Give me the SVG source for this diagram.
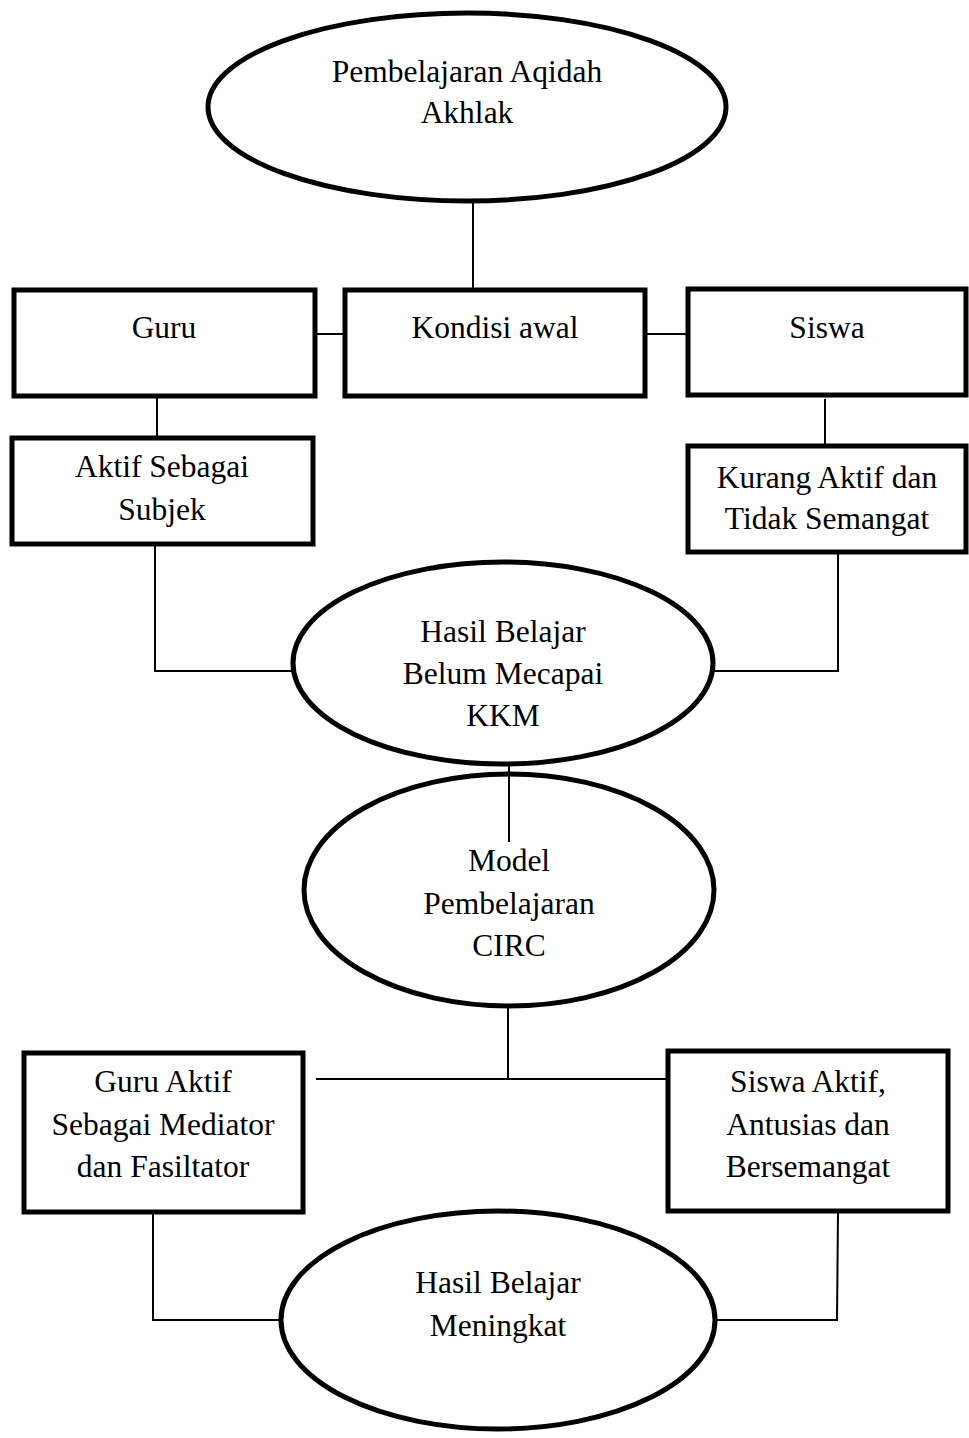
<svg xmlns="http://www.w3.org/2000/svg" width="969" height="1438" viewBox="0 0 969 1438">
<style>
.n{fill:#fff;stroke:#000;stroke-width:5}
.t{font-family:"Liberation Serif","Times New Roman",serif;font-size:31.5px;fill:#000;text-anchor:middle}
.c{fill:none;stroke:#000;stroke-width:2}
</style>
<rect width="969" height="1438" fill="#fff"/>
<g id="connectors">
<line class="c" x1="473" y1="203" x2="473" y2="289"/>
<line class="c" x1="316" y1="334" x2="343" y2="334"/>
<line class="c" x1="646" y1="334" x2="686" y2="334"/>
<line class="c" x1="157" y1="397" x2="157" y2="437"/>
<line class="c" x1="825" y1="399" x2="825" y2="445"/>
<polyline class="c" points="155,545 155,671 293,671"/>
<polyline class="c" points="838,553 838,671 713,671"/>
<line class="c" x1="509" y1="765" x2="509" y2="842"/>
<line class="c" x1="508" y1="1008" x2="508" y2="1079"/>
<line class="c" x1="316" y1="1079" x2="676" y2="1079"/>
<polyline class="c" points="153,1213 153,1320 282,1320"/>
<polyline class="c" points="838,1213 837,1320 715,1320"/>
</g>
<g id="n-pembelajaran">
<ellipse class="n" cx="467" cy="107" rx="259" ry="94"/>
<text class="t" x="467" y="82">Pembelajaran Aqidah</text>
<text class="t" x="467" y="123">Akhlak</text>
</g>
<g id="n-guru">
<rect class="n" x="14" y="290" width="301" height="106"/>
<text class="t" x="164" y="338">Guru</text>
</g>
<g id="n-kondisi">
<rect class="n" x="345" y="290" width="300" height="106"/>
<text class="t" x="495" y="338">Kondisi awal</text>
</g>
<g id="n-siswa">
<rect class="n" x="688" y="289" width="278" height="106"/>
<text class="t" x="827" y="338">Siswa</text>
</g>
<g id="n-aktif-subjek">
<rect class="n" x="12" y="438" width="301" height="106"/>
<text class="t" x="162" y="477">Aktif Sebagai</text>
<text class="t" x="162" y="520">Subjek</text>
</g>
<g id="n-kurang-aktif">
<rect class="n" x="688" y="446" width="278" height="106"/>
<text class="t" x="827" y="488">Kurang Aktif dan</text>
<text class="t" x="827" y="529">Tidak Semangat</text>
</g>
<g id="n-hasil-belum">
<ellipse class="n" cx="503" cy="663" rx="210" ry="101"/>
<text class="t" x="503" y="642">Hasil Belajar</text>
<text class="t" x="503" y="684">Belum Mecapai</text>
<text class="t" x="503" y="726">KKM</text>
</g>
<g id="n-model">
<ellipse class="n" cx="509" cy="890" rx="205" ry="116" fill-opacity="0"/>
<text class="t" x="509" y="871">Model</text>
<text class="t" x="509" y="914">Pembelajaran</text>
<text class="t" x="509" y="956">CIRC</text>
</g>
<g id="n-guru-aktif">
<rect class="n" x="24" y="1053" width="279" height="159"/>
<text class="t" x="163" y="1092">Guru Aktif</text>
<text class="t" x="163" y="1135">Sebagai Mediator</text>
<text class="t" x="163" y="1177">dan Fasiltator</text>
</g>
<g id="n-siswa-aktif">
<rect class="n" x="668" y="1051" width="280" height="160"/>
<text class="t" x="808" y="1092">Siswa Aktif,</text>
<text class="t" x="808" y="1135">Antusias dan</text>
<text class="t" x="808" y="1177">Bersemangat</text>
</g>
<g id="n-hasil-meningkat">
<ellipse class="n" cx="498" cy="1320" rx="217" ry="109"/>
<text class="t" x="498" y="1293">Hasil Belajar</text>
<text class="t" x="498" y="1336">Meningkat</text>
</g>
</svg>
